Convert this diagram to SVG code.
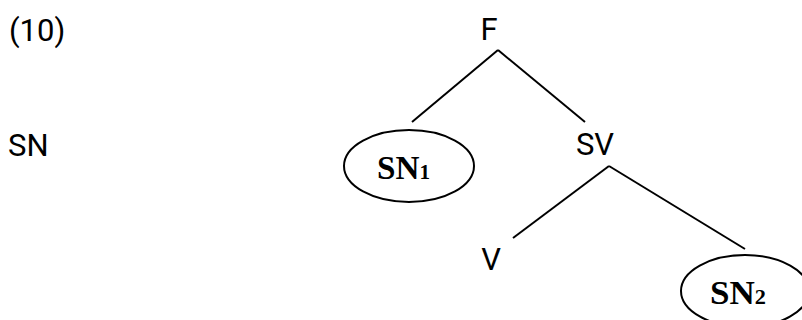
<svg xmlns="http://www.w3.org/2000/svg" width="802" height="320" viewBox="0 0 802 320">
<style>
.lab{font-family:Roboto,"Liberation Sans",sans-serif;font-size:31px;fill:#000}
.nb{font-family:"Liberation Serif","Times New Roman",serif;font-weight:bold;font-size:33px;fill:#000}
.sub{font-size:21px}
.edge{stroke:#000;stroke-width:2;fill:none}
.oval{stroke:#000;stroke-width:2;fill:#fff}
</style>
<rect width="802" height="320" fill="#fff"/>
<text class="lab" x="9" y="41">(10)</text>
<text class="lab" x="8" y="156">SN</text>
<g id="connectors">
<line class="edge" x1="498" y1="50" x2="412" y2="122"/>
<line class="edge" x1="498" y1="50" x2="585" y2="122"/>
<line class="edge" x1="609" y1="166" x2="513" y2="238"/>
<line class="edge" x1="609" y1="166" x2="745" y2="249"/>
</g>
<g id="F"><text class="lab" x="489" y="40" text-anchor="middle">F</text></g>
<g id="SN1">
<ellipse class="oval" cx="409" cy="166" rx="65" ry="36"/>
<text class="nb" x="377" y="179" textLength="53" lengthAdjust="spacingAndGlyphs">SN<tspan class="sub">1</tspan></text>
</g>
<g id="SV"><text class="lab" x="595" y="155" text-anchor="middle">SV</text></g>
<g id="V"><text class="lab" x="491" y="270" text-anchor="middle">V</text></g>
<g id="SN2">
<ellipse class="oval" cx="745" cy="291" rx="64" ry="36"/>
<text class="nb" x="710" y="304" textLength="56" lengthAdjust="spacingAndGlyphs">SN<tspan class="sub">2</tspan></text>
</g>
</svg>
